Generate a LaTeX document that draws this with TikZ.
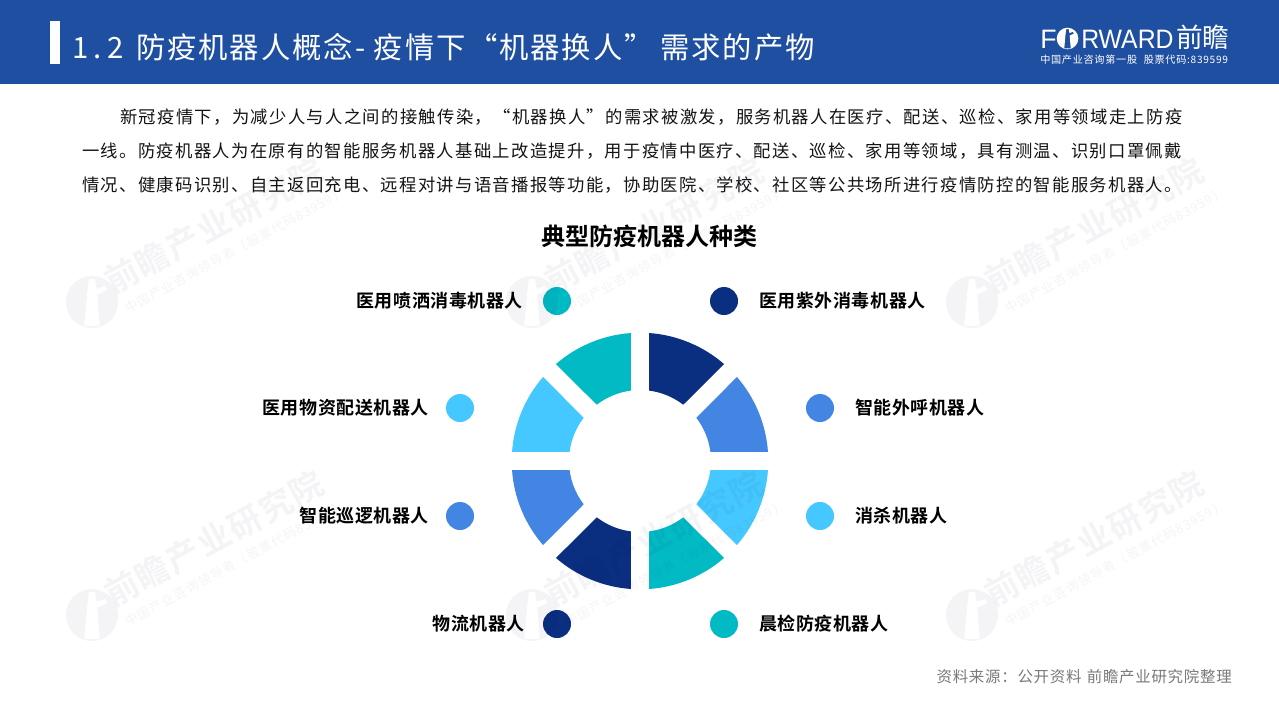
\documentclass[tikz,border=0pt]{standalone}
\usepackage{fontspec}
\setmainfont{Noto Sans CJK SC}
\newfontfamily\bodyfont[LetterSpace=7.65]{Noto Sans CJK SC}
\newfontfamily\titlefont[LetterSpace=6.5]{Noto Sans CJK SC}
\newfontfamily\labelfont[LetterSpace=3,BoldFont={Noto Sans CJK SC Bold}]{Noto Sans CJK SC}
\newfontfamily\headfont[LetterSpace=0.5,BoldFont={Noto Sans CJK SC Bold}]{Noto Sans CJK SC}
\newfontfamily\smallfont[LetterSpace=7]{Noto Sans CJK SC}
\newfontfamily\srcfont[LetterSpace=4.6]{Noto Sans CJK SC}
\newfontfamily\wmbig[LetterSpace=5,BoldFont={Noto Sans CJK SC Bold}]{Noto Sans CJK SC}
\newfontfamily\wmsmall[LetterSpace=9.5]{Noto Sans CJK SC}
\newfontfamily\latinfont{Liberation Sans}
\definecolor{hdr}{HTML}{1F4FA0}
\definecolor{ctea}{HTML}{02BAC4}
\definecolor{cnav}{HTML}{0A2E80}
\definecolor{cblu}{HTML}{4385E3}
\definecolor{clig}{HTML}{45C8FF}
\newcommand{\fs}[1]{\fontsize{#1}{#1}\selectfont}
\tikzset{
  x=.75pt,y=.75pt,
  body/.style={anchor=base west,inner sep=0,text=black!92,font=\bodyfont\fs{13pt}},
  lab/.style={inner sep=0,text=black,font=\labelfont\bfseries\fs{13.5pt}},
  labl/.style={lab,anchor=base east},
  labr/.style={lab,anchor=base west},
  dot/.style={circle,minimum size=21pt,inner sep=0},
  wm/.style={fill=black!70!blue,fill opacity=.045,text opacity=.045,text=black!70!blue},
}
% logo mark: radius #1 at current origin
\newcommand{\logomark}[2]{%
  \fill[even odd rule,#2] (0,0) circle[radius=#1]
    (-.12*#1,.88*#1) -- (.12*#1,.88*#1) -- (.18*#1,.5*#1) -- (.5*#1,.62*#1) -- (.6*#1,.45*#1) -- (.2*#1,.28*#1) -- (.3*#1,-.92*#1) -- (-.3*#1,-.92*#1) -- (-.18*#1,.4*#1) -- cycle;
}
\newcommand{\watermark}[3]{%
  \begin{scope}[shift={(#1,#2)}]
    \logomark{26}{wm}
    \node[wm,fill=none,rotate=28.5,anchor=base west,inner sep=0,font=\wmbig\bfseries\fs{25pt}] (w#3a) at (21,7) {前瞻产业研究院};
    \node[wm,fill=none,rotate=28.5,anchor=base west,inner sep=0,font=\wmsmall\fs{9.5pt}] (w#3b) at (36,-12) {中国产业咨询领导者（股票代码83959）};
  \end{scope}}
\begin{document}
\begin{tikzpicture}
\useasboundingbox (0,0) rectangle (1279,-719);
\fill[white] (0,0) rectangle (1279,-719);
\fill[hdr] (0,0) rectangle (1279,-84);
\fill[white] (50,-21) rectangle (60,-64);
\node[anchor=base west,inner sep=0,text=white,font=\titlefont\fs{22pt}] (title) at (72,-58) {\makebox[48pt][l]{1\hspace{4pt}.\hspace{4pt}2}防疫机器人概念\hspace{1.5pt}-\hspace{6.5pt}疫情下\hspace{1.8pt}“机器换人”\hspace{5pt}需求的产物};
% header logo
\node[anchor=base west,inner sep=0,text=white,font=\latinfont\fs{20pt}] (lf) at (1040,-48) {F};
\begin{scope}[shift={(1067.5,-38.5)}]\logomark{10.8}{white}\end{scope}
\node[anchor=base west,inner sep=0,text=white,font=\latinfont\fs{20pt},xscale=.93] (lr) at (1081,-48) {RWARD};
\node[anchor=base west,inner sep=0,text=white,font=\fs{20pt}] (lc) at (1176,-47) {前瞻};
\node[anchor=base west,inner sep=0,text=white,font=\smallfont\fs{7.6pt}] (ls) at (1040,-63) {中国产业咨询第一股\hspace{5pt}股票代码:839599};
% body
\node[body] (b1) at (120,-123) {新冠疫情下，为减少人与人之间的接触传染，“机器换人”的需求被激发，服务机器人在医疗、配送、巡检、家用等领域走上防疫};
\node[body] (b2) at (82,-157) {一线。防疫机器人为在原有的智能服务机器人基础上改造提升，用于疫情中医疗、配送、巡检、家用等领域，具有测温、识别口罩佩戴};
\node[body] (b3) at (82,-191) {情况、健康码识别、自主返回充电、远程对讲与语音播报等功能，协助医院、学校、社区等公共场所进行疫情防控的智能服务机器人。};
\node[inner sep=0,text=black,font=\headfont\bfseries\fs{18pt}] (rt) at (649.5,-236) {典型防疫机器人种类};
% ring
\begin{scope}[shift={(640,-461)}]
\foreach \b/\c in {45/cnav,0/cblu,-45/clig,-90/ctea,-135/cnav,-180/cblu,-225/clig,-270/ctea}{
  \fill[\c] (\b+4.1:128.3) arc[start angle=\b+4.1,end angle=\b+40.9,radius=128.3]
     -- (\b+37.55:71) arc[start angle=\b+37.55,end angle=\b+7.45,radius=71] -- cycle;
}
\end{scope}
% legend
\node[dot,fill=ctea] (d1) at (557,-301) {};
\node[dot,fill=cnav] (d2) at (724,-301) {};
\node[dot,fill=clig] (d3) at (460,-408) {};
\node[dot,fill=cblu] (d4) at (820,-408) {};
\node[dot,fill=cblu] (d5) at (460,-516) {};
\node[dot,fill=clig] (d6) at (820,-516) {};
\node[dot,fill=cnav] (d7) at (557,-624) {};
\node[dot,fill=ctea] (d8) at (724,-624) {};
\node[labl] (l1) at (523,-307) {医用喷洒消毒机器人};
\node[labr] (l2) at (759,-307) {医用紫外消毒机器人};
\node[labl] (l3) at (429,-414) {医用物资配送机器人};
\node[labr] (l4) at (855,-414) {智能外呼机器人};
\node[labl] (l5) at (429,-522) {智能巡逻机器人};
\node[labr] (l6) at (855,-522) {消杀机器人};
\node[labl] (l7) at (525,-630) {物流机器人};
\node[labr] (l8) at (759,-630) {晨检防疫机器人};
\node[anchor=base east,inner sep=0,text=black!52,font=\srcfont\fs{11.6pt}] (src) at (1232,-682) {资料来源：公开资料\hspace{4pt}前瞻产业研究院整理};
% watermarks
\watermark{92}{-302}{a}
\watermark{532}{-302}{b}
\watermark{972}{-302}{c}
\watermark{92}{-615}{d}
\watermark{532}{-615}{e}
\watermark{972}{-615}{f}
\end{tikzpicture}
\end{document}
